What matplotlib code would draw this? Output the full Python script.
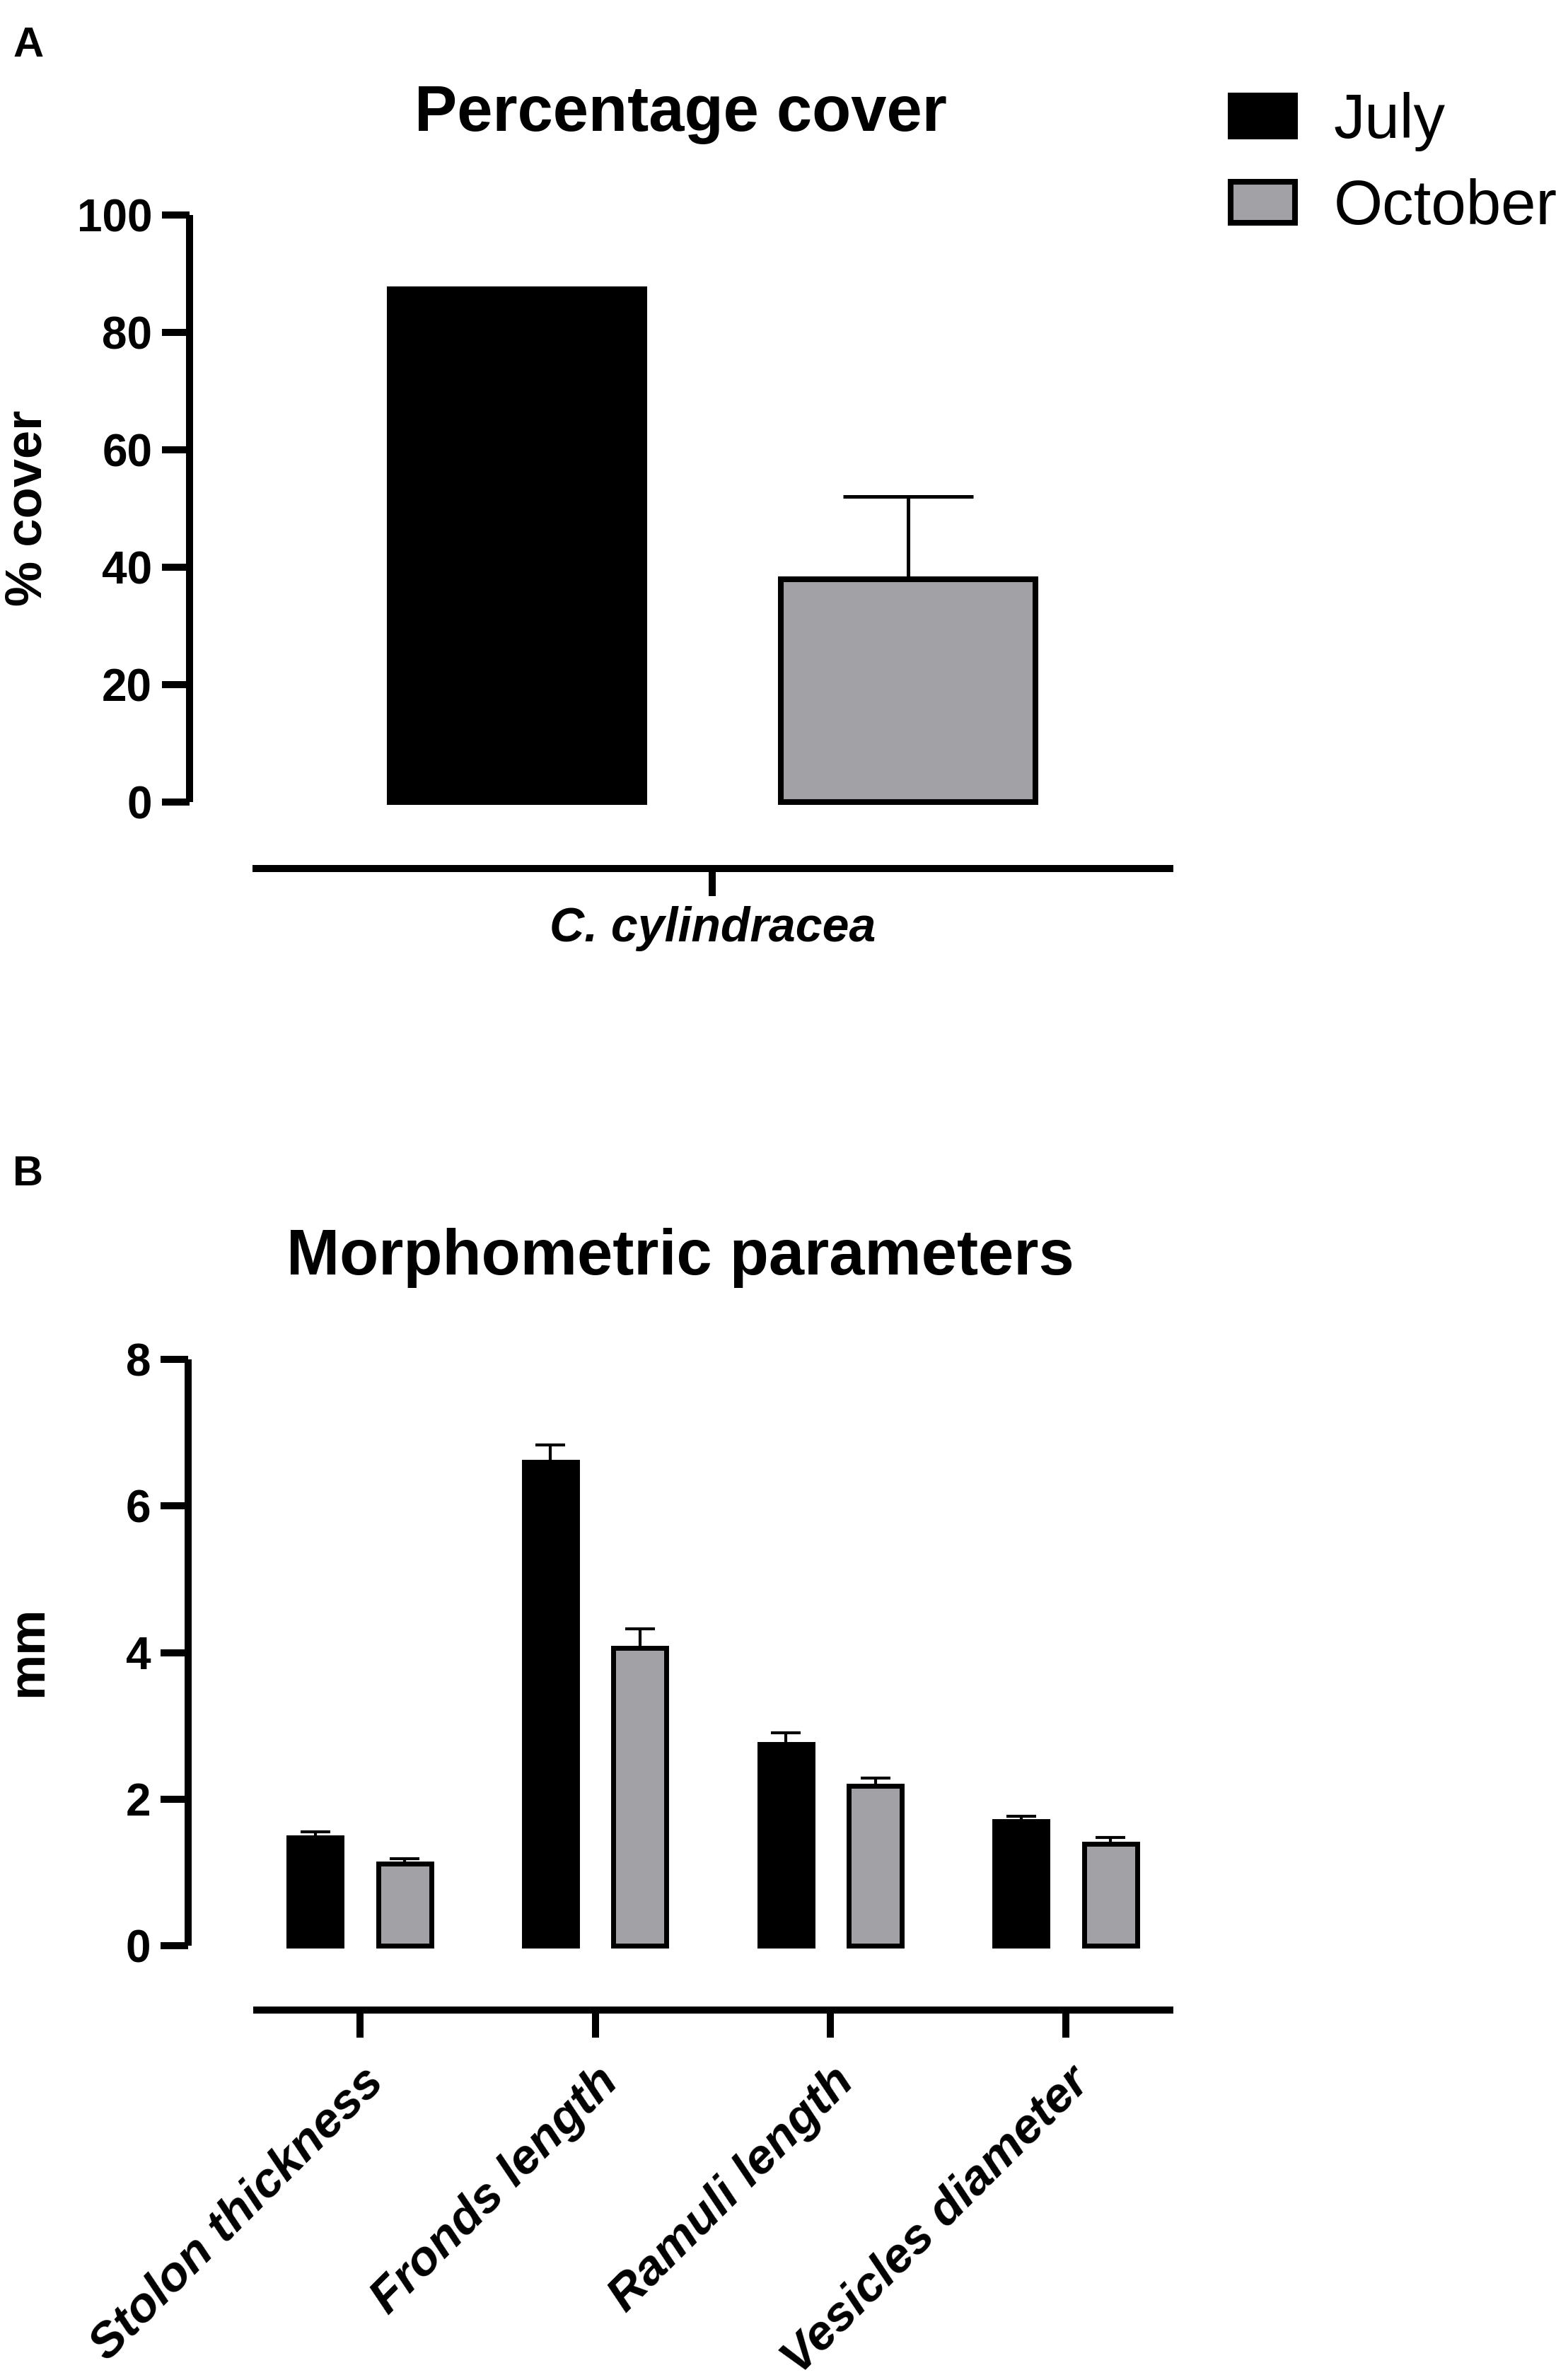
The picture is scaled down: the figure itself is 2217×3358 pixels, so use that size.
import matplotlib
matplotlib.use("Agg")
import matplotlib.pyplot as plt
import numpy as np

plt.rcParams['font.family'] = ['Liberation Sans', 'DejaVu Sans']

# Dados - painel A (percentual de cobertura)
meses = ["July", "October"]
cover_mean = [87.3, 38.0]
cover_se = [0.0, 14.0]
especie = "C. cylindracea"

# Dados - painel B (parametros morfometricos, mm)
parametros = ["Stolon thickness", "Fronds length", "Ramuli length", "Vesicles diameter"]
july_mean = [1.48, 6.60, 2.75, 1.70]
july_se = [0.07, 0.23, 0.15, 0.07]
october_mean = [1.12, 4.06, 2.18, 1.39]
october_se = [0.07, 0.26, 0.11, 0.09]

cores = ["black", "#a2a2a6"]

W, H = 2217, 3358
fig = plt.figure(figsize=(W / 100, H / 100), dpi=100)


def px_axes(left, top, right, bottom):
    # posicao do eixo em pixels da figura
    return fig.add_axes([left / W, (H - bottom) / H, (right - left) / W, (bottom - top) / H])


def estilo(ax, left_out, bottom_out, xpad):
    for s in ["top", "right"]:
        ax.spines[s].set_visible(False)
    ax.spines["left"].set_position(("outward", left_out))
    ax.spines["bottom"].set_position(("outward", bottom_out))
    for s in ["left", "bottom"]:
        ax.spines[s].set_linewidth(7.2)
        ax.spines[s].set_capstyle("butt")
    ax.tick_params(axis="both", direction="out", length=28, width=7.2)
    ax.tick_params(axis="y", labelsize=46, pad=10)
    ax.tick_params(axis="x", pad=xpad)


# ---------------- Painel A ----------------
axA = px_axes(357, 304, 1659, 1134)
estilo(axA, 64.1, 67.7, 10)
xA = np.arange(len(meses))
for i in range(len(meses)):
    axA.bar(xA[i], cover_mean[i], width=0.65, color=cores[i], edgecolor="black",
            linewidth=5.8, label=meses[i], zorder=3, clip_on=False)
axA.errorbar(xA[1:], cover_mean[1:], yerr=[[0], cover_se[1:]], fmt="none", ecolor="black",
             elinewidth=3.6, capsize=66, capthick=3.6, zorder=2)
axA.set_xlim(-0.676, 1.678)
axA.set_ylim(0, 100)
axA.set_yticks([0, 20, 40, 60, 80, 100])
axA.set_yticklabels(["0", "20", "40", "60", "80", "100"], fontsize=46, fontweight="bold")
axA.set_xticks([0.5])
axA.set_xticklabels([especie], fontsize=49, fontweight="bold", fontstyle="italic")

fig.text(40, H - 64, "A", transform=None, fontsize=43, fontweight="bold", ha="center", va="center")
fig.text(962 / W, 1 - 185 / H, "Percentage cover", fontsize=65, fontweight="bold",
         ha="center", va="baseline")
fig.text(40 / W, 1 - 718 / H, "% cover", fontsize=52, fontweight="bold", rotation=90,
         ha="center", va="center")

# Legenda
fig.legend(*axA.get_legend_handles_labels(), loc="upper left",
           bbox_to_anchor=(1740 / W, 1 - 130 / H), bbox_transform=fig.transFigure,
           frameon=False, fontsize=64, borderpad=0, borderaxespad=0,
           handlelength=1.02, handleheight=0.63, handletextpad=0.62, labelspacing=0.43)

# ---------------- Painel B ----------------
axB = px_axes(358, 1922, 1659, 2751)
estilo(axB, 66.2, 65.5, 22)
xB = np.arange(len(parametros))
off = 0.19
larg = 0.225
axB.bar(xB - off, july_mean, width=larg, color=cores[0], edgecolor="black",
        linewidth=5, zorder=3, clip_on=False)
axB.bar(xB + off, october_mean, width=larg, color=cores[1], edgecolor="black",
        linewidth=5, zorder=3, clip_on=False)
axB.errorbar(xB - off, july_mean, yerr=[np.zeros(4), july_se], fmt="none", ecolor="black",
             elinewidth=3, capsize=15, capthick=3, zorder=2)
axB.errorbar(xB + off, october_mean, yerr=[np.zeros(4), october_se], fmt="none", ecolor="black",
             elinewidth=3, capsize=15, capthick=3, zorder=2)
axB.set_xlim(-0.454, 3.457)
axB.set_ylim(0, 8)
axB.set_yticks([0, 2, 4, 6, 8])
axB.set_yticklabels(["0", "2", "4", "6", "8"], fontsize=46, fontweight="bold")
axB.set_xticks(xB)
axB.set_xticklabels(parametros, fontsize=50, fontweight="bold", fontstyle="italic",
                    rotation=45, ha="right", va="top", rotation_mode="anchor")

fig.text(40, H - 1660, "B", transform=None, fontsize=43, fontweight="bold", ha="center", va="center")
fig.text(962 / W, 1 - 1802 / H, "Morphometric parameters", fontsize=65, fontweight="bold",
         ha="center", va="baseline")
fig.text(40 / W, 1 - 2335 / H, "mm", fontsize=52, fontweight="bold", rotation=90,
         ha="center", va="center")

plt.savefig("out.png", dpi=100)
